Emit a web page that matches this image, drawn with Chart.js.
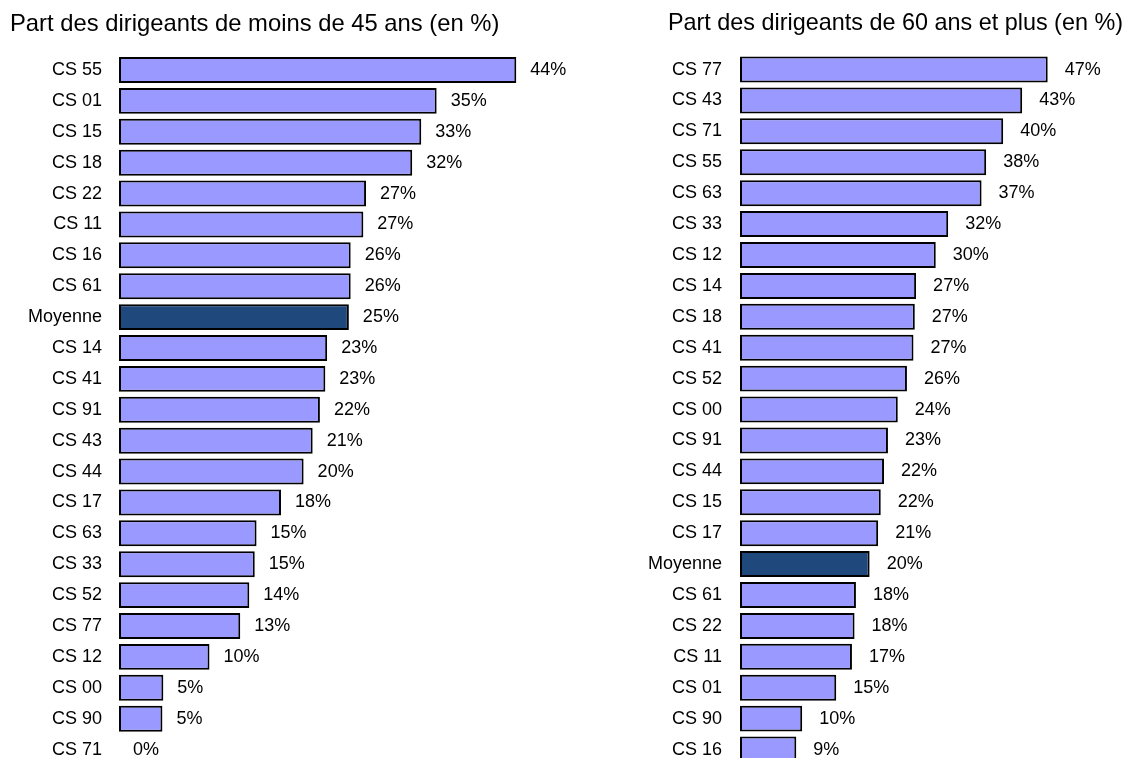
<!DOCTYPE html>
<html>
<head>
<meta charset="utf-8">
<script src="https://cdn.jsdelivr.net/npm/chart.js@4"></script>
<style>
  body { margin: 0; background: #fff; overflow: hidden; }
  canvas { position: absolute; top: 0; }
  #chartLeft { left: 0; }
  #chartRight { left: 590px; }
</style>
</head>
<body>
<canvas id="chartLeft" width="590" height="765"></canvas>
<canvas id="chartRight" width="543" height="765"></canvas>
<script>
// part des dirigeants de moins de 45 ans
const youngLabels = ['CS 55', 'CS 01', 'CS 15', 'CS 18', 'CS 22', 'CS 11', 'CS 16', 'CS 61', 'Moyenne', 'CS 14', 'CS 41', 'CS 91',
  'CS 43', 'CS 44', 'CS 17', 'CS 63', 'CS 33', 'CS 52', 'CS 77', 'CS 12', 'CS 00', 'CS 90', 'CS 71'];
const youngValues = [43.9, 35.1, 33.4, 32.4, 27.3, 27.0, 25.6, 25.6, 25.4, 23.0, 22.8, 22.2,
  21.4, 20.4, 17.9, 15.2, 15.0, 14.4, 13.4, 10.0, 4.9, 4.8, 0];

// part des dirigeants de 60 ans et plus
const oldLabels = ['CS 77', 'CS 43', 'CS 71', 'CS 55', 'CS 63', 'CS 33', 'CS 12', 'CS 14', 'CS 18', 'CS 41', 'CS 52', 'CS 00',
  'CS 91', 'CS 44', 'CS 15', 'CS 17', 'Moyenne', 'CS 61', 'CS 22', 'CS 11', 'CS 01', 'CS 90', 'CS 16'];
const oldValues = [47.0, 43.1, 40.2, 37.6, 36.9, 31.8, 29.9, 26.9, 26.7, 26.5, 25.5, 24.1,
  22.6, 22.0, 21.5, 21.1, 19.8, 17.7, 17.5, 17.1, 14.7, 9.5, 8.6];

const FONT = "'Liberation Sans', Arial, sans-serif";
Chart.defaults.font.family = FONT;
Chart.defaults.color = '#000';

const barColor = '#9999FF';
const avgColor = '#1F497D';

// data labels drawn to the right of each bar
const valueLabels = {
  id: 'valueLabels',
  afterDatasetsDraw(chart, args, opts) {
    const ctx = chart.ctx;
    const data = chart.data.datasets[0].data;
    ctx.save();
    ctx.font = '18px ' + FONT;
    ctx.fillStyle = '#000';
    ctx.textAlign = 'left';
    ctx.textBaseline = 'middle';
    chart.getDatasetMeta(0).data.forEach((bar, i) => {
      ctx.fillText(Math.round(data[i]) + '%', bar.x + opts.offset, bar.y);
    });
    ctx.restore();
  }
};

function makeChart(id, labels, values, cfg) {
  return new Chart(document.getElementById(id), {
    type: 'bar',
    data: {
      labels: labels,
      datasets: [{
        data: values,
        backgroundColor: labels.map(l => l === 'Moyenne' ? avgColor : barColor),
        borderColor: '#000',
        borderWidth: 2,
        borderSkipped: false,
        barPercentage: 0.84,
        categoryPercentage: 1
      }]
    },
    plugins: [valueLabels],
    options: {
      indexAxis: 'y',
      responsive: false,
      animation: false,
      layout: { padding: cfg.padding },
      scales: {
        x: { display: false, min: 0, max: cfg.max },
        y: {
          grid: { display: false, drawTicks: false },
          border: { display: false },
          ticks: { autoSkip: false, padding: cfg.tickPad, font: { size: 18 } },
          afterFit: (scale) => {
            scale.width = cfg.axisWidth;
            // no extra room above/below the first and last label
            scale.paddingTop = 0;
            scale.paddingBottom = 0;
          }
        }
      },
      plugins: {
        legend: { display: false },
        tooltip: { enabled: false },
        title: {
          display: true,
          text: cfg.title,
          align: cfg.align,
          font: { size: cfg.titleSize, weight: 'normal' },
          padding: { top: 10, bottom: 16 }
        },
        valueLabels: { offset: cfg.offset }
      }
    }
  });
}

makeChart('chartLeft', youngLabels, youngValues, {
  title: 'Part des dirigeants de moins de 45 ans (en %)',
  titleSize: 23.8,
  align: 'start',
  padding: { left: 10, right: 18.5, top: 0, bottom: 0 },
  axisWidth: 109,
  tickPad: 17,
  max: 50,
  offset: 14
});

makeChart('chartRight', oldLabels, oldValues, {
  title: 'Part des dirigeants de 60 ans et plus (en %)',
  titleSize: 23.4,
  align: 'end',
  padding: { left: 0, right: 10, top: 0, bottom: 0 },
  axisWidth: 150,
  tickPad: 18,
  max: 58.5,
  offset: 17
});
</script>
</body>
</html>
